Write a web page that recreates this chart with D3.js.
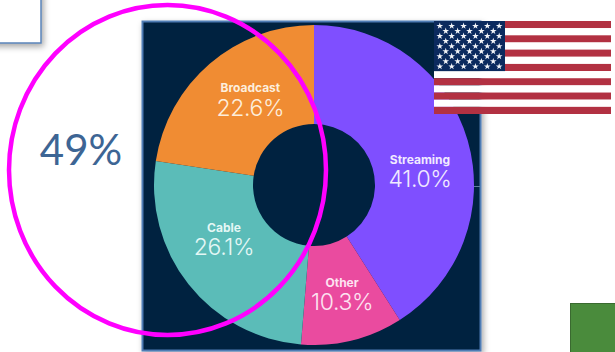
<!DOCTYPE html>
<html>
<head>
<meta charset="utf-8">
<script src="https://cdn.jsdelivr.net/npm/d3@7"></script>
<style>
html,body{margin:0;padding:0;background:#fff;overflow:hidden}
svg{display:block}
</style>
</head>
<body>
<svg id="chart" width="615" height="352"></svg>
<script>
// Share of TV viewing by delivery type
const categories = ["Streaming", "Other", "Cable", "Broadcast"];
const shares = [41.0, 10.3, 26.1, 22.6];
const sliceColors = ["#7f4fff", "#ea4b9f", "#5bbcb8", "#f08c33"];
const labelColors = ["#f1eaff", "#fde3f1", "#e4f7f5", "#fdeedd"];
const calloutText = "49%";
const starsPerRow = [6, 5, 6, 5, 6, 5, 6, 5, 6];

const svg = d3.select("#chart");
const defs = svg.append("defs");
const shadow = defs.append("filter").attr("id", "drop")
  .attr("x", "-20%").attr("y", "-20%").attr("width", "150%").attr("height", "150%");
shadow.append("feDropShadow").attr("dx", 2).attr("dy", 3).attr("stdDeviation", 3)
  .attr("flood-color", "#000").attr("flood-opacity", 0.35);

// Text box cut off at the top-left corner
svg.append("rect")
  .attr("x", -10).attr("y", -10).attr("width", 51).attr("height", 53)
  .attr("fill", "#fff").attr("stroke", "#5a83b8").attr("stroke-width", 1.5)
  .attr("filter", "url(#drop)");

// Dark panel behind the donut
svg.append("rect")
  .attr("x", 142.5).attr("y", 21.5).attr("width", 338).attr("height", 329)
  .attr("fill", "#03203f").attr("stroke", "#4f7db5").attr("stroke-width", 2)
  .attr("filter", "url(#drop)");

// Donut
const center = [314, 185];
const outerR = 160, innerR = 61;
const pie = d3.pie().value(d => d.value).sort(null);
const arc = d3.arc().innerRadius(innerR).outerRadius(outerR);
const pieData = pie(categories.map((name, i) => ({name, value: shares[i], i})));
const donut = svg.append("g").attr("transform", `translate(${center})`);
donut.selectAll("path").data(pieData).join("path")
  .attr("d", arc).attr("fill", d => sliceColors[d.data.i]);

// Thin rule between the ring and the panel's right edge
donut.append("line")
  .attr("x1", outerR).attr("x2", 166).attr("y1", 1.5).attr("y2", 1.5)
  .attr("stroke", "#5f7f9f").attr("stroke-width", 1);

// Labels start from the mid-ring centroid, then shift to clear the hole and slice edges
const labelArc = d3.arc().innerRadius(113).outerRadius(113);
const labelShift = [[-2.5, 22], [1, 3.5], [-1.4, -12], [10, 4.5]];
const labels = donut.selectAll("g.label").data(pieData).join("g")
  .attr("class", "label")
  .attr("transform", d => {
    const [x, y] = labelArc.centroid(d);
    const [dx, dy] = labelShift[d.data.i];
    return `translate(${x + dx},${y + dy})`;
  })
  .attr("text-anchor", "middle")
  .attr("fill", d => labelColors[d.data.i]);
labels.append("text").text(d => d.data.name)
  .attr("y", -11.5)
  .attr("font-family", "Inter, sans-serif").attr("font-size", 12).attr("font-weight", 700);
labels.append("text").text(d => d.data.value.toFixed(1) + "%")
  .attr("y", 12)
  .attr("font-family", "Inter, sans-serif").attr("font-size", 23).attr("font-weight", 300)
  .attr("letter-spacing", -0.4);

// Flag
const flag = {x: 434, y: 21, w: 177, h: 93, cantonW: 71};
const stripeScale = d3.scaleBand().domain(d3.range(13)).range([flag.y, flag.y + flag.h]);
const flagG = svg.append("g");
flagG.selectAll("rect.stripe").data(d3.range(13)).join("rect")
  .attr("class", "stripe")
  .attr("x", flag.x).attr("width", flag.w)
  .attr("y", d => stripeScale(d)).attr("height", stripeScale.bandwidth())
  .attr("fill", d => d % 2 ? "#ffffff" : "#b23142");
flagG.append("rect")
  .attr("x", flag.x).attr("y", flag.y)
  .attr("width", flag.cantonW).attr("height", stripeScale(7) - flag.y)
  .attr("fill", "#0b2a5e");
const star = d3.symbol().type(d3.symbolStar).size(14);
const rowScale = d3.scaleLinear().domain([0, 8]).range([flag.y + 5, flag.y + 45.5]);
const colScale = d3.scaleLinear().domain([0, 5]).range([flag.x + 5.8, flag.x + 65.2]);
const stars = starsPerRow.flatMap((n, r) =>
  d3.range(n).map(c => ({r, c: r % 2 ? c + 0.5 : c})));
flagG.selectAll("path.star").data(stars).join("path")
  .attr("class", "star").attr("d", star).attr("fill", "#f2f4f8")
  .attr("transform", d => `translate(${colScale(d.c)},${rowScale(d.r)})`);

// Green square at the lower right
svg.append("rect")
  .attr("x", 570.5).attr("y", 303.5).attr("width", 45).attr("height", 49)
  .attr("fill", "#4a8b3c").attr("stroke", "#3a6a30").attr("stroke-width", 1);

// Callout ring and figure
svg.append("ellipse")
  .attr("cx", 167.5).attr("cy", 170).attr("rx", 158.5).attr("ry", 165)
  .attr("fill", "none").attr("stroke", "#ff00ff").attr("stroke-width", 4.5);
svg.append("text").text(calloutText)
  .attr("x", 81).attr("y", 165).attr("text-anchor", "middle")
  .attr("font-family", "Lato, 'Open Sans', sans-serif").attr("font-size", 42)
  .attr("fill", "#3d6594");
</script>
</body>
</html>
